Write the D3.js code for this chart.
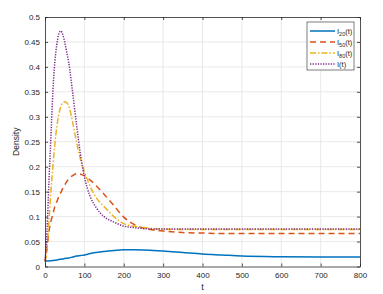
<!DOCTYPE html>
<html lang="en">
<head>
<meta charset="UTF-8">
<title>Density</title>
<script src="https://cdn.jsdelivr.net/npm/d3@7"></script>
<style>
    body { margin: 0; background: #fff; }
    .chart text { font-family: "Liberation Sans", Arial, sans-serif; fill: #262626; }
    .tick text { font-size: 8px; }
    .grid line { stroke: #e3e3e3; stroke-width: 0.8; }
</style>
</head>
<body>
<svg class="chart"></svg>
<script>
    let t = [0, 5, 10, 15, 20, 25, 30, 35, 40, 45, 50, 55, 60, 70, 80, 90, 100, 115, 130, 150, 175, 200, 225, 250, 275, 300, 350, 400, 450, 500, 600, 700, 800];
    let i20 = [0.011, 0.011, 0.0112, 0.0115, 0.012, 0.0125, 0.013, 0.014, 0.0145, 0.015, 0.016, 0.0165, 0.017, 0.019, 0.021, 0.022, 0.023, 0.026, 0.028, 0.030, 0.032, 0.0335, 0.0335, 0.033, 0.032, 0.031, 0.028, 0.025, 0.023, 0.021, 0.0195, 0.019, 0.019];
    let i50 = [0.01, 0.035, 0.07, 0.09, 0.105, 0.12, 0.13, 0.14, 0.148, 0.156, 0.163, 0.17, 0.175, 0.182, 0.186, 0.185, 0.182, 0.173, 0.162, 0.145, 0.122, 0.099, 0.085, 0.077, 0.073, 0.071, 0.068, 0.067, 0.066, 0.066, 0.066, 0.066, 0.066];
    let i80 = [0.01, 0.035, 0.09, 0.15, 0.2, 0.245, 0.28, 0.305, 0.32, 0.328, 0.33, 0.328, 0.322, 0.29, 0.25, 0.215, 0.19, 0.16, 0.138, 0.12, 0.1, 0.086, 0.081, 0.078, 0.076, 0.075, 0.074, 0.074, 0.074, 0.074, 0.074, 0.074, 0.074];
    let iAll = [0.012, 0.07, 0.17, 0.26, 0.35, 0.41, 0.445, 0.466, 0.472, 0.465, 0.45, 0.43, 0.41, 0.35, 0.285, 0.225, 0.18, 0.14, 0.118, 0.1, 0.089, 0.081, 0.078, 0.076, 0.075, 0.075, 0.075, 0.075, 0.075, 0.075, 0.075, 0.075, 0.075];
    let xTicks = [0, 100, 200, 300, 400, 500, 600, 700, 800];
    let yTicks = [0, 0.05, 0.1, 0.15, 0.2, 0.25, 0.3, 0.35, 0.4, 0.45, 0.5];

    let series = [
        {sub: '20', vals: i20, color: '#0072BD', dash: null, w: 1.5},
        {sub: '50', vals: i50, color: '#D95319', dash: '6,4', w: 1.5},
        {sub: '80', vals: i80, color: '#EDB120', dash: '6,2,1.5,2', w: 1.5},
        {sub: null, vals: iAll, color: '#7E2F8E', dash: '1.3,1.3', w: 1.5}
    ];

    let W = 383, H = 294;
    let m = {left: 45, right: 23, top: 17, bottom: 27.5};
    let w = W - m.left - m.right, h = H - m.top - m.bottom;

    let svg = d3.select('.chart').attr('width', W).attr('height', H);
    let g = svg.append('g').attr('transform', 'translate(' + m.left + ',' + m.top + ')');

    let x = d3.scaleLinear().domain([0, 800]).range([0, w]);
    let y = d3.scaleLinear().domain([0, 0.5]).range([h, 0]);

    // grid
    g.append('g').attr('class', 'grid').selectAll('line').data(xTicks.slice(1, -1)).enter().append('line')
        .attr('x1', d => x(d)).attr('x2', d => x(d)).attr('y1', 0).attr('y2', h);
    g.append('g').attr('class', 'grid').selectAll('line').data(yTicks.slice(1, -1)).enter().append('line')
        .attr('y1', d => y(d)).attr('y2', d => y(d)).attr('x1', 0).attr('x2', w);

    // lines
    let line = d3.line().x((d, i) => x(t[i])).y(d => y(d)).curve(d3.curveMonotoneX);
    g.selectAll('path.s').data(series).enter().append('path')
        .attr('class', 's')
        .attr('fill', 'none')
        .attr('stroke', d => d.color)
        .attr('stroke-width', d => d.w)
        .attr('stroke-dasharray', d => d.dash)
        .attr('d', d => line(d.vals));

    // axes (ticks pointing inward, box on all sides)
    let ax = (sel) => sel.selectAll('.domain').attr('stroke', '#262626').attr('stroke-width', 0.8);
    g.append('g').attr('transform', 'translate(0,' + h + ')')
        .call(d3.axisBottom(x).tickValues(xTicks).tickSizeInner(-3).tickSizeOuter(0).tickPadding(6))
        .call(ax);
    g.append('g')
        .call(d3.axisLeft(y).tickValues(yTicks).tickFormat(d => d3.format('')(+d.toFixed(2))).tickSizeInner(-3).tickSizeOuter(0).tickPadding(5))
        .call(ax);
    g.append('g')
        .call(d3.axisTop(x).tickValues(xTicks).tickSizeInner(-3).tickSizeOuter(0).tickFormat(''))
        .call(ax);
    g.append('g').attr('transform', 'translate(' + w + ',0)')
        .call(d3.axisRight(y).tickValues(yTicks).tickSizeInner(-3).tickSizeOuter(0).tickFormat(''))
        .call(ax);
    g.selectAll('.tick line').attr('stroke', '#262626').attr('stroke-width', 0.8);

    // axis labels
    svg.append('text').attr('x', m.left + w / 2).attr('y', 290).attr('text-anchor', 'middle')
        .attr('font-size', 9).text('t');
    svg.append('text').attr('transform', 'translate(19,' + (m.top + h / 2) + ') rotate(-90)')
        .attr('text-anchor', 'middle').attr('font-size', 8.5).text('Density');

    // legend
    let lg = svg.append('g').attr('transform', 'translate(307,22)');
    lg.append('rect').attr('width', 47).attr('height', 48).attr('fill', '#fff')
        .attr('stroke', '#262626').attr('stroke-width', 0.6);
    let item = lg.selectAll('g.item').data(series).enter().append('g')
        .attr('class', 'item')
        .attr('transform', (d, i) => 'translate(0,' + (9 + i * 11) + ')');
    item.append('line').attr('x1', 3).attr('x2', 28).attr('y1', 0).attr('y2', 0)
        .attr('stroke', d => d.color).attr('stroke-width', d => d.w)
        .attr('stroke-dasharray', d => d.dash);
    let lt = item.append('text').attr('x', 30).attr('y', 2.5).attr('font-size', 7.5);
    lt.append('tspan').text('I');
    lt.filter(d => d.sub).append('tspan').attr('font-size', 5.5).attr('dy', 2).text(d => d.sub);
    lt.append('tspan').attr('dy', d => d.sub ? -2 : 0).text('(t)');
</script>
</body>
</html>
